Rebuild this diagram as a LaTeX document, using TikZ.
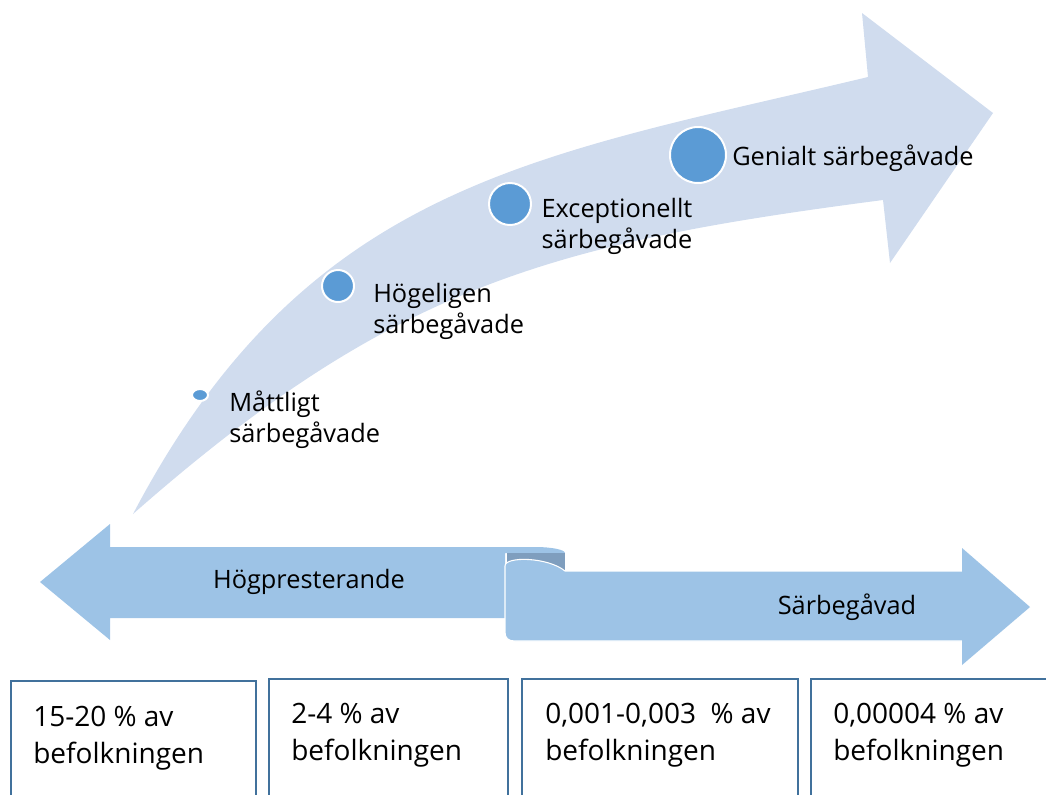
\documentclass[tikz,border=0pt]{standalone}
\usepackage{fontspec}
\setmainfont{Open Sans}
\usetikzlibrary{shapes.geometric}
\definecolor{curvefill}{HTML}{D0DCEE}
\definecolor{dotblue}{HTML}{5B9BD5}
\definecolor{ribbon}{HTML}{9DC3E6}
\definecolor{rolldark}{HTML}{7F9EBE}
\definecolor{boxline}{HTML}{41719C}
\tikzset{
  dot/.style={circle,fill=dotblue,draw=white,line width=1.5pt,inner sep=0pt},
  lbl/.style={anchor=base west,align=left,inner sep=0pt,font=\fontsize{19}{23}\selectfont},
  pctbox/.style={draw=boxline,line width=1.5pt,anchor=north west,inner sep=0pt},
  pct/.style={anchor=base west,align=left,inner sep=0pt,font=\fontsize{21}{27.5}\selectfont}
}
\begin{document}
\begin{tikzpicture}[x=0.75pt,y=-0.75pt]
\useasboundingbox (0,0) rectangle (1046,794);
\clip (0,0) rectangle (1046,794);
\fill[curvefill] (133,514) .. controls (308,181) and (538,156) .. (868,77)
    -- (862,13) -- (993,113) -- (890,263) -- (883,200)
    .. controls (553,243) and (393,285) .. (133,514) -- cycle;
\node[dot,ellipse,minimum width=12pt,minimum height=9pt] (d1) at (200,395) {};
\node[dot,minimum size=24pt] (d2) at (338,286) {};
\node[dot,minimum size=31.5pt] (d3) at (510,204) {};
\node[dot,minimum size=42pt] (d4) at (698,155) {};
\node[lbl] (mattligt) at (229,442) {Måttligt\\särbegåvade};
\node[lbl] (hogeligen) at (373,333) {Högeligen\\särbegåvade};
\node[lbl,align=center,anchor=base] (exceptionellt) at (617,248) {Exceptionellt\\särbegåvade};
\node[lbl] (genialt) at (732,165) {Genialt särbegåvade};
\fill[ribbon] (40,582) -- (110,524) -- (110,547) -- (535,547) arc[start angle=90,end angle=0,x radius=30,y radius=-6] -- (505,553) -- (505,618) -- (110,618) -- (110,640) -- cycle;
\fill[rolldark] (507,553) rectangle (565,575);
\filldraw[ribbon,draw=white,line width=0.8pt] (505,566) .. controls (505,556) and (548,557) .. (565,571) -- (962,571) -- (962,548) -- (1030,607) -- (962,665) -- (962,641) -- (515,641) .. controls (508,641) and (505,638) .. (505,632) -- cycle;
\fill[ribbon] (962,573) -- (962,548) -- (1030,607) -- (962,665) -- (962,639) -- (940,639) -- (940,573) -- cycle;
\node[font=\fontsize{19}{23}\selectfont] (hogpresterande) at (309,582) {Högpresterande};
\node[font=\fontsize{19}{23}\selectfont] (sarbegavad) at (847,607) {Särbegåvad};
\node[pctbox,minimum width=183.75pt,minimum height=100pt] (b1) at (10,680) {};
\node[pctbox,minimum width=179.25pt,minimum height=100pt] (b2) at (268,678) {};
\node[pctbox,minimum width=207pt,minimum height=100pt] (b3) at (521,678) {};
\node[pctbox,minimum width=200pt,minimum height=100pt] (b4) at (810,678) {};
\node[pct] (p1) at (33,763) {15-20 \% av\\befolkningen};
\node[pct] (p2) at (291,760) {2-4 \% av\\befolkningen};
\node[pct] (p3) at (545,760) {0,001-0,003\ \ \% av\\befolkningen};
\node[pct] (p4) at (833,760) {0,00004 \% av\\befolkningen};
\end{tikzpicture}
\end{document}
